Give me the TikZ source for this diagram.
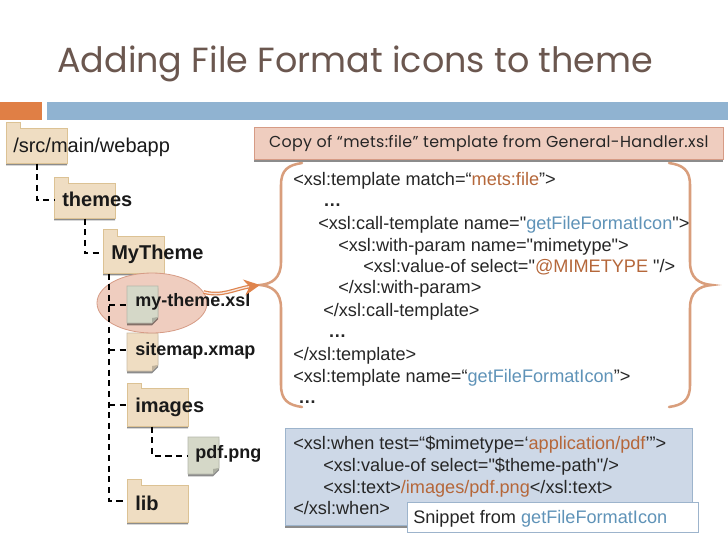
\documentclass[tikz,border=0pt]{standalone}
\usepackage{fontspec}
\setmainfont{Liberation Sans}
\newfontfamily\codefont{Liberation Sans}
\newfontfamily\gothicfont{Poppins}
\newfontfamily\gothicsmall[LetterSpace=2]{Poppins}
\usetikzlibrary{shadows,shapes.geometric,arrows.meta,calc}
\definecolor{titlecol}{HTML}{6B574F}
\definecolor{barorange}{HTML}{E07F45}
\definecolor{barblue}{HTML}{90B3D1}
\definecolor{folderfill}{HTML}{EFDDC2}
\definecolor{folderline}{HTML}{DCC294}
\definecolor{filegrey}{HTML}{D5D8C8}
\definecolor{pinkfill}{HTML}{EFCDBF}
\definecolor{pinkline}{HTML}{D69B85}
\definecolor{bracecol}{HTML}{D99E7C}
\definecolor{codeorange}{HTML}{B5673A}
\definecolor{codeblue}{HTML}{5F93B8}
\definecolor{panelblue}{HTML}{CDD8E7}
\definecolor{panelline}{HTML}{9DB4CC}
\tikzset{
  softshadow/.style={drop shadow={shadow xshift=0pt,shadow yshift=-1.8pt,fill=black,opacity=.45}},
  folderpath/.style={fill=folderfill,draw=folderline,line width=.7pt,softshadow},
  conn/.style={line width=1.5pt,black,dash pattern=on 4.6pt off 3.4pt},
  code/.style={anchor=base west,inner sep=0pt,font=\fontsize{13.6pt}{15pt}\codefont,text=black!85},
  dots/.style={anchor=base west,inner sep=0pt,font=\fontsize{13.5pt}{15pt}\codefont\bfseries,text=black!85},
  boldlabel/.style={anchor=base west,inner sep=0pt,font=\fontsize{15pt}{17pt}\selectfont\bfseries,text=black!90},
  filelabel/.style={anchor=base west,inner sep=0pt,font=\fontsize{13.5pt}{16pt}\selectfont\bfseries,text=black!90},
  brace/.style={bracecol,line width=1.9pt,line cap=round},
}
% name, x, tab top, body top, bottom
\newcommand{\folderbox}[5]{%
  \path[folderpath] (#2,#3) -- (#2+14,#3) -- (#2+14,#4) -- (#2+61,#4) -- (#2+61,#5) -- (#2,#5) -- cycle;
  \node[inner sep=0pt,minimum width=45.75pt,minimum height={(#5-#3)*0.75pt},anchor=north west] (#1) at (#2,#3) {};
}
% name, x, top, bottom, fill
\newcommand{\filebox}[5]{%
  \path[fill=#5,draw=#5!85!black,line width=.5pt,softshadow] (#2,#3) -- (#2+31,#3) -- (#2+31,#4-6) -- (#2+25,#4) -- (#2,#4) -- cycle;
  \path[fill=#5!80!black] (#2+31,#4-6) -- (#2+25,#4-5) -- (#2+25,#4) -- cycle;
  \node[inner sep=0pt,minimum width=23.25pt,minimum height={(#4-#3)*0.75pt},anchor=north west] (#1) at (#2,#3) {};
}
\begin{document}
\begin{tikzpicture}[x=0.75pt,y=-0.75pt]
\useasboundingbox (0,0) rectangle (728,546);
\fill[white] (0,0) rectangle (728,546);
% title and rule bars
\node[anchor=base west,inner sep=0pt,text=titlecol,font=\fontsize{26.2pt}{32pt}\gothicfont] (title) at (57,72) {Adding File Format icons to theme};
\fill[barorange] (0,102) rectangle (42,120);
\fill[barblue] (47,102) rectangle (728,120);
% folders and files
\folderbox{src}{6}{122}{128}{163}
\folderbox{themes}{54}{177}{183}{218}
\folderbox{mytheme}{103}{229}{236}{273}
\filebox{sitemap}{127}{333}{371}{folderfill}
\node[ellipse,inner sep=0pt,minimum width=82.5pt,minimum height=45pt,fill=pinkfill,draw=pinkline,line width=.6pt] (hl) at (152,303) {};
\filebox{mythemexsl}{127}{286}{323}{filegrey}
\folderbox{images}{127}{383}{388}{426}
\filebox{pdfpng}{188}{437}{474}{filegrey}
\folderbox{lib}{127}{479}{485}{522}
% tree connectors
\coordinate (trunktop) at ($(mytheme.south west)+(6,0)$);
\coordinate (imgdrop) at ($(images.south west)+(25,0)$);
\draw[conn] (src.south) |- ([yshift=-1.5pt]themes.west);
\draw[conn] (themes.south) |- ([yshift=-1.5pt]mytheme.west);
\draw[conn] (trunktop) |- (lib.west);
\draw[conn] (trunktop |- mythemexsl.west) -- (mythemexsl.west);
\draw[conn] (trunktop |- sitemap.west) ++(0,-2) -- ($(sitemap.west)+(0,-2)$);
\draw[conn] (trunktop |- images.west) -- (images.west);
\draw[conn] (imgdrop) |- (pdfpng.west);
% tree labels
\node[anchor=base west,inner sep=0pt,font=\fontsize{15pt}{17pt}\selectfont,text=black!90] (srcl) at (13,152) {/src/main/webapp};
\node[boldlabel] (themesl) at (62,206) {themes};
\node[boldlabel] (mythemel) at (111,259) {MyTheme};
\node[filelabel] (xsll) at (135,306) {my-theme.xsl};
\node[filelabel] (sitemapl) at (135,355) {sitemap.xmap};
\node[boldlabel] (imagesl) at (135,412) {images};
\node[filelabel] (pdfl) at (195,458) {pdf.png};
\node[boldlabel] (libl) at (135,510) {lib};
% heading box
\node[anchor=north west,inner sep=0pt,minimum width=351.75pt,minimum height=24pt,fill=pinkfill,draw=pinkline,line width=.5pt,softshadow,font=\fontsize{11.9pt}{14pt}\gothicsmall,text=black!85] (copybox) at (254,127) {Copy of “mets:file” template from General-Handler.xsl};
% braces
\coordinate (ltip) at (260,285);
\coordinate (rtip) at (712,285);
\draw[brace] (302,163) .. controls (288,165) and (281,170) .. (281,185) -- (281,262) .. controls (281,278) and (272,284) .. (ltip) .. controls (272,286) and (281,292) .. (281,308) -- (281,385) .. controls (281,400) and (288,405) .. (302,407);
\draw[brace] (669,163) .. controls (683,165) and (690,170) .. (690,185) -- (690,262) .. controls (690,278) and (699,284) .. (rtip) .. controls (699,286) and (690,292) .. (690,308) -- (690,385) .. controls (690,400) and (683,405) .. (669,407);
% arrow
\draw[barorange!85!bracecol,line width=.9pt,double=pinkfill!50!white,double distance=1pt,-{Stealth[length=12pt,width=12pt,inset=4pt]}] (hl.12) .. controls (222,297) and (234,289) .. (ltip);
% code block
\node[code] (c1) at (293,185) {<xsl:template match=“\textcolor{codeorange}{mets:file}”>};
\node[dots] (c2) at (323,206) {…};
\node[code] (c3) at (318,229) {<xsl:call-template name="\textcolor{codeblue}{getFileFormatIcon}">};
\node[code] (c4) at (338,251) {<xsl:with-param name="mimetype">};
\node[code] (c5) at (363,272) {<xsl:value-of select="\textcolor{codeorange}{@MIMETYPE} "/>};
\node[code] (c6) at (338,293) {</xsl:with-param>};
\node[code] (c7) at (323,316) {</xsl:call-template>};
\node[dots] (c8) at (328,337) {…};
\node[code] (c9) at (293,360) {</xsl:template>};
\node[code] (c10) at (293,382) {<xsl:template name=“\textcolor{codeblue}{getFileFormatIcon}”>};
\node[dots] (c11) at (298,403) {…};
% snippet panel
\node[anchor=north west,inner sep=0pt,minimum width=305.25pt,minimum height=72.75pt,fill=panelblue,draw=panelline,line width=.5pt,softshadow] (panel) at (285,428) {};
\node[code] (s1) at (293,449) {<xsl:when test=“\$mimetype=‘\textcolor{codeorange}{application/pdf}’”>};
\node[code] (s2) at (323,471) {<xsl:value-of select="\$theme-path"/>};
\node[code] (s3) at (323,493) {<xsl:text>\textcolor{codeorange}{/images/pdf.png}</xsl:text>};
\node[code] (s4) at (293,514) {</xsl:when>};
\node[anchor=north west,inner sep=0pt,minimum width=218.25pt,minimum height=22.5pt,fill=white,draw=panelline,line width=.7pt] (snipbox) at (407,502) {};
\node[code] (snip) at (413,523) {Snippet from \textcolor{codeblue}{getFileFormatIcon}};
\end{tikzpicture}
\end{document}
